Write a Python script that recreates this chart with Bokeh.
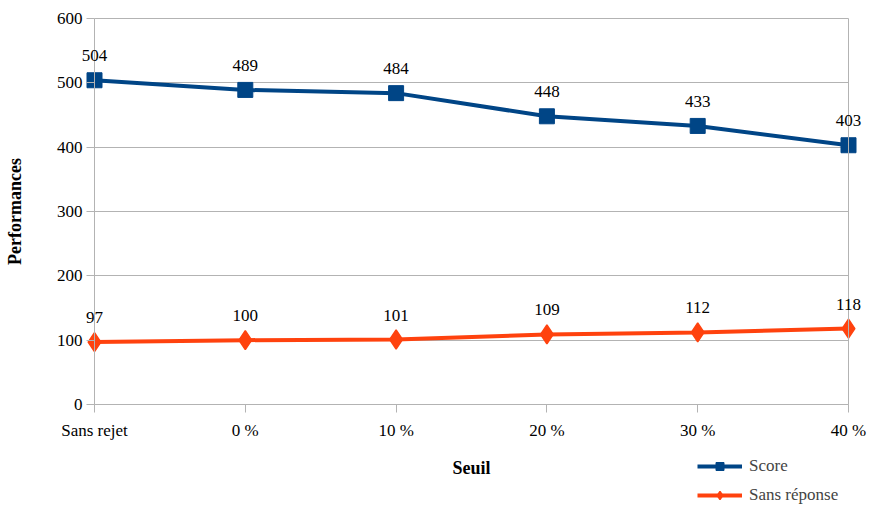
from bokeh.plotting import figure
from bokeh.models import (Range1d, FixedTicker, Legend, LegendItem, ColumnDataSource,
                          LabelSet, LinearAxis, Grid)
from bokeh.embed import file_html
from bokeh.resources import INLINE

categories = ["Sans rejet", "0 %", "10 %", "20 %", "30 %", "40 %"]
score = [504, 489, 484, 448, 433, 403]
sans_reponse = [97, 100, 101, 109, 112, 118]
y_ticks = [0, 100, 200, 300, 400, 500, 600]

FONT = "Liberation Serif"
BLUE = "#004586"
ORANGE = "#ff420e"
GRAY = "#b3b3b3"

W, H = 869, 505
# plot-area box in page pixels
PL, PR, PT, PB = 94, 848, 18, 404

xs = list(range(len(categories)))
x0, x1 = 0, len(categories) - 1
y0, y1 = y_ticks[0], y_ticks[-1]
kx = (PR - PL) / (x1 - x0)
ky = (PB - PT) / (y1 - y0)

p = figure(width=W, height=H, output_backend="svg", toolbar_location=None,
           x_range=Range1d(x0 - PL / kx, x1 + (W - PR) / kx),
           y_range=Range1d(y0 - (H - PB) / ky, y1 + PT / ky),
           min_border=0, min_border_left=0, min_border_right=0,
           min_border_top=0, min_border_bottom=0,
           x_axis_location=None, y_axis_location=None)
p.outline_line_color = None
p.background_fill_color = "white"
p.border_fill_color = "white"
p.xgrid.grid_line_color = None
p.ygrid.grid_line_color = None


def style_axis(ax):
    ax.axis_line_color = GRAY
    ax.axis_line_width = 1
    ax.major_tick_line_color = GRAY
    ax.major_tick_in = 0
    ax.major_tick_out = 8
    ax.minor_tick_line_color = None
    ax.major_label_text_font = FONT
    ax.major_label_text_font_size = "17px"
    ax.major_label_text_color = "#000000"
    ax.axis_label_text_font = FONT
    ax.axis_label_text_font_style = "bold"
    ax.axis_label_text_font_size = "18px"
    ax.axis_label_text_color = "#000000"


xaxis = LinearAxis(ticker=FixedTicker(ticks=xs), fixed_location=y0, bounds=(x0, x1),
                   axis_label="Seuil",
                   major_label_overrides={i: c for i, c in enumerate(categories)})
style_axis(xaxis)
xaxis.major_label_standoff = 8
xaxis.axis_label_standoff = 15
p.add_layout(xaxis, "below")

yaxis = LinearAxis(ticker=FixedTicker(ticks=y_ticks), fixed_location=x0, bounds=(y0, y1),
                   axis_label="Performances")
style_axis(yaxis)
yaxis.major_label_standoff = 4
yaxis.axis_label_standoff = 29
p.add_layout(yaxis, "left")

raxis = LinearAxis(ticker=FixedTicker(ticks=[]), fixed_location=x1, bounds=(y0, y1))
raxis.axis_line_color = GRAY
raxis.major_tick_line_color = None
raxis.minor_tick_line_color = None
raxis.major_label_text_alpha = 0
p.add_layout(raxis, "right")

if "cross_bounds" in Grid.properties():
    g = Grid(dimension=1, ticker=FixedTicker(ticks=y_ticks), cross_bounds=(x0, x1),
             grid_line_color=GRAY, grid_line_width=1, level="underlay")
    p.add_layout(g)
else:
    gsrc = ColumnDataSource(dict(y=y_ticks, xa=[x0] * len(y_ticks), xb=[x1] * len(y_ticks)))
    p.segment("xa", "y", "xb", "y", source=gsrc, line_color=GRAY, line_width=1, level="underlay")

src = ColumnDataSource(dict(x=xs, score=score, sr=sans_reponse,
                            score_t=[str(v) for v in score],
                            sr_t=[str(v) for v in sans_reponse]))

l1 = p.line("x", "score", source=src, line_color=BLUE, line_width=4)
m1 = p.scatter("x", "score", source=src, marker="square", size=15,
               fill_color=BLUE, line_color=BLUE)
l2 = p.line("x", "sr", source=src, line_color=ORANGE, line_width=4)
m2 = p.scatter("x", "sr", source=src, marker="diamond", size=19,
               fill_color=ORANGE, line_color=ORANGE, line_width=1.5)

for col, ycol in (("score_t", "score"), ("sr_t", "sr")):
    lbl = LabelSet(x="x", y=ycol, text=col, source=src, y_offset=19,
                   text_align="center", text_baseline="alphabetic",
                   text_font=FONT, text_font_size="17px", text_color="#000000")
    p.add_layout(lbl)

legend = Legend(items=[LegendItem(label="Score", renderers=[l1, m1]),
                       LegendItem(label="Sans réponse", renderers=[l2, m2])],
                location=(697, 0), orientation="vertical",
                label_text_font=FONT, label_text_font_size="17px",
                glyph_width=45, glyph_height=20, label_height=20, spacing=9,
                padding=0, margin=0, label_standoff=7,
                border_line_color=None, background_fill_alpha=0)
p.add_layout(legend, "center")

open("out.html", "w").write(file_html(p, INLINE))
